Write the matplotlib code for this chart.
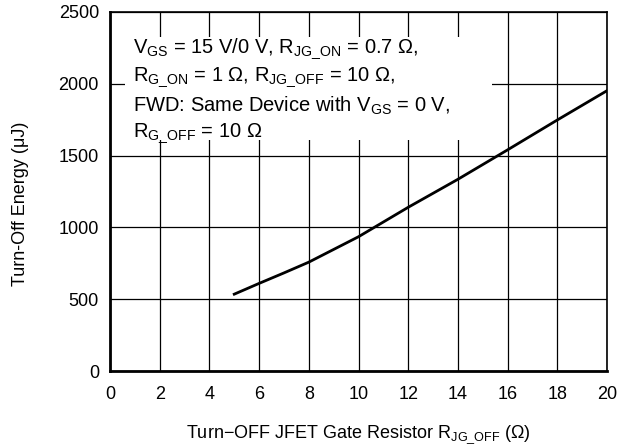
import numpy as np
import matplotlib
matplotlib.use("Agg")
import matplotlib.pyplot as plt
from matplotlib.patches import Rectangle

plt.rcParams['font.family'] = ['Liberation Sans', 'DejaVu Sans']
plt.rcParams['mathtext.fontset'] = 'custom'
plt.rcParams['mathtext.rm'] = 'Liberation Sans'
plt.rcParams['mathtext.it'] = 'Liberation Sans'
plt.rcParams['mathtext.bf'] = 'Liberation Sans'

# data
r_off = [5, 6, 7, 8, 10, 12, 14, 16, 18, 20]
e_off = [535, 610, 683, 758, 935, 1140, 1335, 1540, 1748, 1952]

x_ticks = [0, 2, 4, 6, 8, 10, 12, 14, 16, 18, 20]
y_ticks = [0, 500, 1000, 1500, 2000, 2500]

note = ("V$_{\\mathrm{GS}}$ = 15 V/0 V, R$_{\\mathrm{JG\\_ON}}$ = 0.7 Ω,\n"
        "R$_{\\mathrm{G\\_ON}}$ = 1 Ω, R$_{\\mathrm{JG\\_OFF}}$ = 10 Ω,\n"
        "FWD: Same Device with V$_{\\mathrm{GS}}$ = 0 V,\n"
        "R$_{\\mathrm{G\\_OFF}}$ = 10 Ω")

fig = plt.figure(figsize=(6.42, 4.45), dpi=100)
ax = fig.add_axes([110/642, 74/445, 497/642, 359/445])

ax.plot(r_off, e_off, color='black', lw=2, zorder=6)

ax.set_xlim(0, 20)
ax.set_ylim(0, 2500)
ax.set_xticks(x_ticks)
ax.set_yticks(y_ticks)
ax.tick_params(axis='x', length=0, labelsize=13, pad=11)
ax.tick_params(axis='y', length=0, labelsize=13, pad=8)
ax.grid(True, color='black', lw=0.9)
ax.set_axisbelow(True)
for s in ['left', 'bottom']:
    ax.spines[s].set_linewidth(2)
for s in ['top', 'right']:
    ax.spines[s].set_linewidth(1.2)

ax.set_xlabel("Turn\u2212OFF JFET Gate Resistor R$_{\\mathrm{JG\\_OFF}}$ (Ω)", fontsize=13, labelpad=15)
ax.set_ylabel("Turn-Off Energy (μJ)", fontsize=13)
ax.yaxis.set_label_coords(-0.163, 0.465)

# white area behind the note, hides the grid
ax.add_patch(Rectangle((125/642, 1 - 140/445), 367/642, 103/445,
                       transform=fig.transFigure, facecolor='white',
                       edgecolor='none', zorder=4))
ax.text(133/642, 1 - 36/445, note, transform=fig.transFigure, fontsize=14.5,
        va='top', ha='left', linespacing=1.3, zorder=5)

fig.savefig("out.png", dpi=100)
